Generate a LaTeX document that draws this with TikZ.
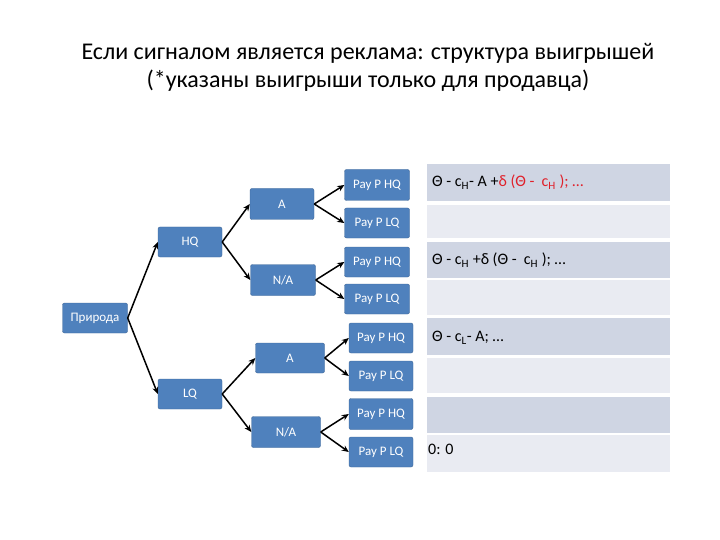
\documentclass[tikz,border=0pt]{standalone}
\usepackage{fontspec}
\setmainfont{Carlito}
\usetikzlibrary{arrows.meta}
\definecolor{boxblue}{HTML}{4F81BD}
\definecolor{rowdark}{HTML}{CFD5E3}
\definecolor{rowlight}{HTML}{E9EBF2}
\definecolor{redt}{HTML}{E0202A}
\tikzset{
  bx/.style={fill=boxblue,draw=boxblue!80!black,line width=0.4pt,rounded corners=2pt,text=white,font=\fontsize{13}{15}\selectfont,inner sep=0pt,anchor=center},
  ar/.style={-{Stealth[length=7pt,width=6pt]},line width=1.5pt,black},
  tx/.style={anchor=west,font=\fontsize{16}{18}\selectfont,inner sep=0pt}
}
\begin{document}
\begin{tikzpicture}[x=1pt,y=-1pt]
\useasboundingbox (0,0) rectangle (720,540);
\node[font=\fontsize{24}{28}\selectfont,align=center] (title) at (368,67) {Если сигналом является реклама: структура выигрышей\\(*указаны выигрыши только для продавца)};
% table rows
\foreach \a/\b/\c in {164/201/rowdark,205/238/rowlight,242/278/rowdark,280/315/rowlight,318/355/rowdark,358/393/rowlight,397/433/rowdark,435/472/rowlight}
  \fill[\c] (427,\a) rectangle (670,\b);
% tree nodes
\node[bx,minimum width=65pt,minimum height=30pt] (n) at (95,318) {Природа};
\node[bx,minimum width=64pt,minimum height=30pt] (hq) at (190,242) {HQ};
\node[bx,minimum width=64pt,minimum height=30pt] (lq) at (190,394) {LQ};
\node[bx,minimum width=64pt,minimum height=31pt] (a1) at (282,204) {A};
\node[bx,minimum width=65pt,minimum height=31pt] (na1) at (283,280) {N/A};
\node[bx,minimum width=69pt,minimum height=30pt] (a2) at (290,358) {A};
\node[bx,minimum width=69pt,minimum height=31pt] (na2) at (286,432) {N/A};
\node[bx,minimum width=65pt,minimum height=31pt] (p1) at (377,185) {Pay P HQ};
\node[bx,minimum width=65pt,minimum height=30pt] (p2) at (377,223) {Pay P LQ};
\node[bx,minimum width=65pt,minimum height=30pt] (p3) at (377,262) {Pay P HQ};
\node[bx,minimum width=65pt,minimum height=30pt] (p4) at (377,299) {Pay P LQ};
\node[bx,minimum width=64pt,minimum height=30pt] (p5) at (381,338) {Pay P HQ};
\node[bx,minimum width=64pt,minimum height=30pt] (p6) at (381,376) {Pay P LQ};
\node[bx,minimum width=64pt,minimum height=31pt] (p7) at (381,414) {Pay P HQ};
\node[bx,minimum width=64pt,minimum height=30pt] (p8) at (381,452) {Pay P LQ};
% arrows
\draw[ar] (n.east) -- (hq.west);
\draw[ar] (n.east) -- (lq.west);
\draw[ar] (hq.east) -- (a1.west);
\draw[ar] (hq.east) -- (na1.west);
\draw[ar] (lq.east) -- (a2.west);
\draw[ar] (lq.east) -- (na2.west);
\draw[ar] (a1.east) -- (p1.west);
\draw[ar] (a1.east) -- (p2.west);
\draw[ar] (na1.east) -- (p3.west);
\draw[ar] (na1.east) -- (p4.west);
\draw[ar] (a2.east) -- (p5.west);
\draw[ar] (a2.east) -- (p6.west);
\draw[ar] (na2.east) -- (p7.west);
\draw[ar] (na2.east) -- (p8.west);
% payoffs
\node[tx] (t1) at (432,182) {Θ - c\textsubscript{H}- A +\textcolor{redt}{δ (Θ -~ c\textsubscript{H} ); …}};
\node[tx] (t2) at (432,260) {Θ - c\textsubscript{H} +δ (Θ -~ c\textsubscript{H} ); …};
\node[tx] (t3) at (432,338) {Θ - c\textsubscript{L}- A; …};
\node[tx] (t4) at (428,449) {0: 0};
\end{tikzpicture}
\end{document}
